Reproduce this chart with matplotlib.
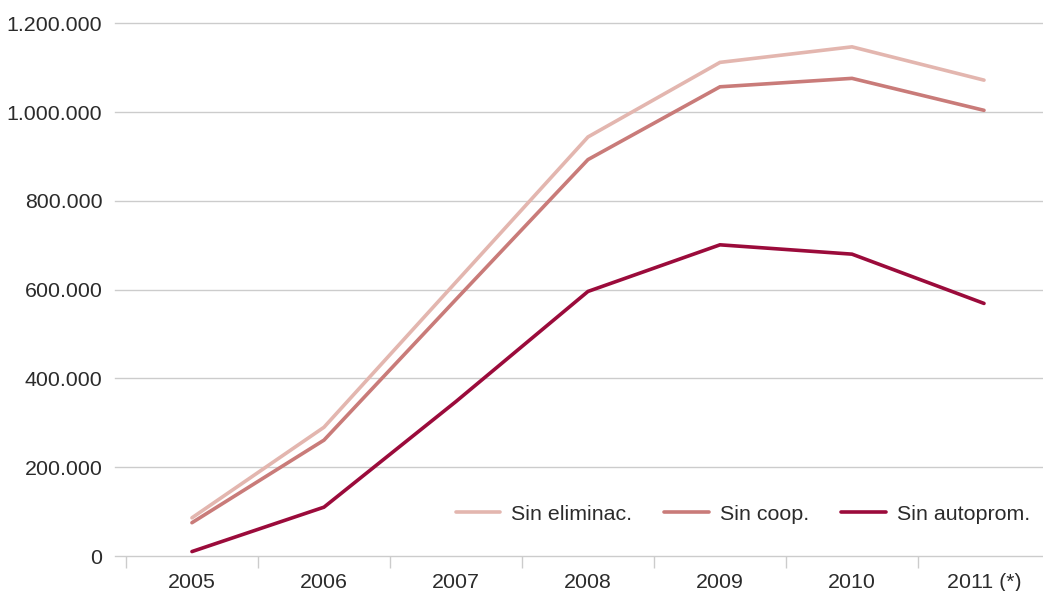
import matplotlib
matplotlib.use("Agg")
import matplotlib.pyplot as plt
from matplotlib.ticker import FuncFormatter, FixedLocator

categories = ["2005", "2006", "2007", "2008", "2009", "2010", "2011 (*)"]
sin_eliminac = [86000, 290000, 617000, 944000, 1112000, 1147000, 1072000]
sin_coop = [75000, 261000, 578000, 893000, 1057000, 1076000, 1004000]
sin_autoprom = [10000, 110000, 348000, 596000, 701000, 680000, 569000]
series_names = ["Sin eliminac.", "Sin coop.", "Sin autoprom."]
colors = ["#E3B6AF", "#C97B79", "#9B0B3B"]
yticks = [0, 200000, 400000, 600000, 800000, 1000000, 1200000]

plt.rcParams['font.family'] = ['Liberation Sans', 'DejaVu Sans']
text_color = "#2b2b2b"
fs = 15.4

fig = plt.figure(figsize=(10.43, 5.91), dpi=100)
ax = fig.add_axes([115/1043, 35/591, 928/1043, 546/591])

x = list(range(len(categories)))
for vals, name, c in zip([sin_eliminac, sin_coop, sin_autoprom], series_names, colors):
    ax.plot(x, vals, color=c, lw=2.6, label=name, solid_capstyle='round',
            solid_joinstyle='miter')

ax.set_xlim(-0.583, 6.447)
ax.set_ylim(0, 1230000)

ax.set_yticks(yticks)
ax.yaxis.set_major_formatter(FuncFormatter(lambda v, p: f"{int(v):,}".replace(",", ".")))
ax.grid(axis='y', color='#cccccc', lw=1.0)
for gl in ax.get_ygridlines():
    gl.set_clip_on(False)
ax.set_axisbelow(True)
for s in ax.spines.values():
    s.set_visible(False)

ax.set_xticks(x)
ax.set_xticklabels(categories)
ax.xaxis.set_minor_locator(FixedLocator([i - 0.5 for i in range(len(categories) + 1)]))
ax.tick_params(axis='x', which='major', length=0, pad=12, labelsize=fs, labelcolor=text_color)
ax.tick_params(axis='x', which='minor', length=8.5, width=1, color='#cccccc')
ax.tick_params(axis='y', length=0, pad=9.0, labelsize=fs, labelcolor=text_color)

leg = fig.legend(loc='center right', bbox_to_anchor=(1030/1043, 1 - 514/591),
                 ncol=3, frameon=False, fontsize=fs, handlelength=2.1,
                 handletextpad=0.49, columnspacing=1.52, borderpad=0, borderaxespad=0)
for t in leg.get_texts():
    t.set_color(text_color)

fig.savefig("out.png", dpi=100)
